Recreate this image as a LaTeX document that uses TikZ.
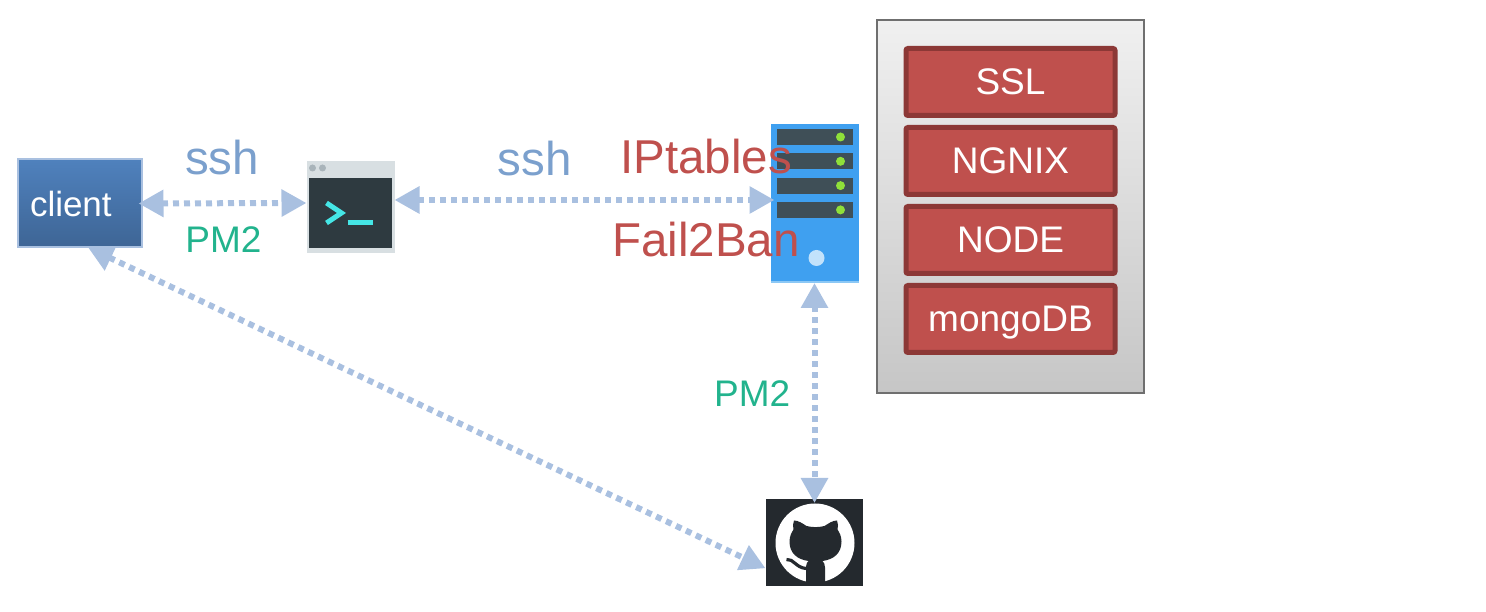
\documentclass[tikz,border=0pt]{standalone}
\usepackage{fontspec}
\setmainfont{Liberation Sans}
\usetikzlibrary{positioning,calc,arrows.meta,backgrounds}

\definecolor{linkblue}{HTML}{A9C0E0}
\definecolor{sshblue}{HTML}{7BA0CD}
\definecolor{pmgreen}{HTML}{22B38D}
\definecolor{fwred}{HTML}{BF504D}
\definecolor{fwdark}{HTML}{8C3836}
\definecolor{clienttop}{HTML}{4F81BD}
\definecolor{clientbottom}{HTML}{3E6595}
\definecolor{termframe}{HTML}{D8DFE2}
\definecolor{termscreen}{HTML}{2E3A40}
\definecolor{termdot}{HTML}{A9B4BA}
\definecolor{termcyan}{HTML}{45E6E6}
\definecolor{serverblue}{HTML}{3FA0F0}
\definecolor{serveredge}{HTML}{8CC8F5}
\definecolor{rackgrey}{HTML}{3F4F57}
\definecolor{rackled}{HTML}{8FE03A}
\definecolor{serverlamp}{HTML}{C2E2FB}
\definecolor{githubdark}{HTML}{24292E}
\definecolor{stackedge}{HTML}{6F6F6F}
\definecolor{stacktop}{HTML}{F0F0F0}
\definecolor{stackbottom}{HTML}{C6C6C6}

\begin{document}
\begin{tikzpicture}[
  x=1pt,y=1pt,
  every node/.style={outer sep=0pt,inner sep=0pt},
  link/.style={draw=linkblue,line width=6pt,dash pattern=on 6pt off 5pt,
    {Triangle[width=26pt,length=25pt]}-{Triangle[width=26pt,length=25pt]}},
  stacklayer/.style={draw=fwdark,line width=5pt,fill=fwred,rounded corners=2pt,
    minimum width=209pt,minimum height=67pt,text depth=0pt,text=white,font=\fontsize{37}{42}\selectfont},
  biglabel/.style={font=\fontsize{47.5}{54}\selectfont},
  smalllabel/.style={font=\fontsize{37}{42}\selectfont,text=pmgreen},
  ]
  \useasboundingbox (0,0) rectangle (1486,612);
  \node[draw=linkblue,line width=2pt,top color=clienttop,bottom color=clientbottom,
    minimum width=124pt,minimum height=88pt,text width=99pt,align=left,text=white,
    font=\fontsize{35}{40}\selectfont] (client) at (79.5,408.5) {client};
  \node[fill=termframe,minimum width=88pt,minimum height=92pt,
    right=165pt of client,yshift=-3.5pt] (term) {};
  \node[fill=serverblue,minimum width=88pt,minimum height=159pt,
    right=376pt of term,yshift=3.5pt] (server) {};
  \node[fill=githubdark,minimum width=97pt,minimum height=87pt,
    below=216pt of server,xshift=-0.5pt] (github) {};
  \node[draw=stackedge,line width=2pt,top color=stacktop,bottom color=stackbottom,
    minimum width=267pt,minimum height=373pt,
    right=18.5pt of server,yshift=-3.5pt] (stack) {};
  \node[stacklayer,below=28pt of stack.north] (ssl) {SSL};
  \node[stacklayer,below=12pt of ssl] (nginx) {NGNIX};
  \node[stacklayer,below=12pt of nginx] (nodejs) {NODE};
  \node[stacklayer,below=12pt of nodejs] (mongo) {mongoDB};
  % terminal window
  \fill[termscreen] ($(term.north west)+(2,-17)$) rectangle ($(term.south east)+(-3,5)$);
  \foreach \dotx in {6,16}
    \fill[termdot] ($(term.north west)+(\dotx,-7)$) circle (3.5);
  \draw[termcyan,line width=5pt] ($(term.north west)+(20,-42)$) -- ++(15,-10) -- ++(-15,-10);
  \draw[termcyan,line width=5pt] ($(term.north west)+(41,-62)$) -- ++(25,0);
  % server rack
  \foreach \rack in {0,1,2,3} {
    \fill[rackgrey] ($(server.north west)+(6,-5-24.3*\rack)$) rectangle ++(76,-16);
    \fill[rackled] ($(server.north west)+(70,-13-24.3*\rack)$) circle (4.5);
  }
  \fill[serverlamp] ($(server.south)+(2,25)$) circle (8);
  \draw[serveredge,line width=1.5pt] ($(server.south west)+(0,0.75)$) -- ++(88,0);
  % github mark
  \begin{scope}[shift={(github.center)}]
    \fill[white] (1,-0.5) circle (39.5);
    \begin{scope}[shift={(1.5,0)}]
      \fill[githubdark] (-9.5,-43.5) -- (-9.5,-24) .. controls (-9.5,-21) and (-8,-19.5) .. (-7,-18.5)
        .. controls (-18,-17) and (-26,-11) .. (-26,1) .. controls (-26,6) and (-24,10) .. (-22,13)
        .. controls (-23,16) and (-22.5,19) .. (-21.5,22) .. controls (-17,22) and (-13,19) .. (-9,16.5)
        .. controls (-3,15) and (3,15) .. (9,16.5) .. controls (13,19) and (17,22) .. (21.5,22)
        .. controls (22.5,19) and (23,16) .. (22,13) .. controls (24,10) and (26,6) .. (26,1)
        .. controls (26,-11) and (18,-17) .. (7,-18.5) .. controls (8.5,-20) and (9.5,-22) .. (9.5,-25)
        -- (9.5,-43.5) -- cycle;
      \draw[githubdark,line width=3.2pt] (-29,-17) .. controls (-22,-16) and (-20,-25) .. (-9.5,-26);
    \end{scope}
  \end{scope}
  % connectors
  \begin{scope}[on background layer]
    \draw[link] (client.-79) -- (github.208.65);
  \end{scope}
  \draw[link] ([xshift=-3pt]client.east) -- ([yshift=4pt]term.west);
  \draw[link] ([yshift=7pt]term.east) -- ([xshift=4pt,yshift=3.5pt]server.west);
  \draw[link] (server.south) -- ([yshift=-4pt,xshift=0.5pt]github.north);
  % labels
  \node[biglabel,text=sshblue] (sshleft) at ($(client)!0.5!(term)+(7,47.5)$) {ssh};
  \node[smalllabel] (pmleft) at ($(client)!0.5!(term)+(8.5,-34.5)$) {PM2};
  \node[biglabel,text=sshblue] (sshright) at ($(term)!0.5!(server)+(-48,47)$) {ssh};
  \node[biglabel,text=fwred] (iptables) at (706,455) {IPtables};
  \node[biglabel,text=fwred] (failban) at (706,372) {Fail2Ban};
  \node[smalllabel] (pmright) at ($(server)!0.5!(github)+(-62,-20.5)$) {PM2};
\end{tikzpicture}
\end{document}
